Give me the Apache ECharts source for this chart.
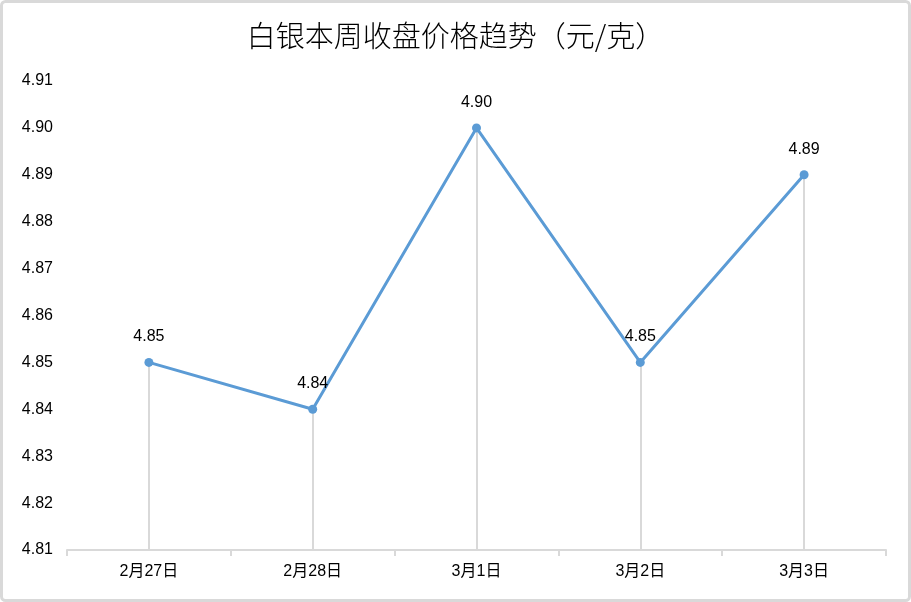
<!DOCTYPE html>
<html>
<head>
<meta charset="utf-8">
<script src="https://cdn.jsdelivr.net/npm/echarts@6/dist/echarts.min.js"></script>
<style>
  body { margin: 0; background: #fff; }
  #main { width: 911px; height: 602px; }
</style>
</head>
<body>
<div id="main"></div>
<script>
// 数据
const days = ['2月27日', '2月28日', '3月1日', '3月2日', '3月3日'];
const prices = [4.85, 4.84, 4.90, 4.85, 4.89];
const yMin = 4.81;
const yMax = 4.91;

const font = '"Liberation Sans", "Noto Sans CJK SC", sans-serif';

// 每个点向下到坐标轴的竖线
const dropLines = prices.map((v, i) => [
  { coord: [i, v] },
  { coord: [i, yMin] }
]);

const chart = echarts.init(document.getElementById('main'));
chart.setOption({
  animation: false,
  backgroundColor: '#fff',
  title: {
    text: '白银本周收盘价格趋势（元/克）',
    left: 'center',
    top: 16,
    textStyle: {
      fontFamily: '"Noto Sans CJK SC", sans-serif',
      fontSize: 29,
      fontWeight: 300,
      color: '#000'
    }
  },
  graphic: [{
    type: 'rect',
    shape: { x: 1.5, y: 1.5, width: 908, height: 599, r: 4 },
    style: { fill: 'none', stroke: '#d9d9d9', lineWidth: 3 },
    silent: true
  }],
  grid: { left: 67, right: 25, top: 81, bottom: 52 },
  xAxis: {
    type: 'category',
    data: days,
    boundaryGap: true,
    axisLine: { lineStyle: { color: '#d9d9d9', width: 2 } },
    axisTick: { show: true, length: 6, lineStyle: { color: '#d9d9d9', width: 2 } },
    axisLabel: { fontFamily: font, fontSize: 16, color: '#000', margin: 14 }
  },
  yAxis: {
    type: 'value',
    min: yMin,
    max: yMax,
    interval: 0.01,
    axisLine: { show: false },
    axisTick: { show: false },
    splitLine: { show: false },
    axisLabel: {
      fontFamily: font,
      fontSize: 16,
      color: '#000',
      margin: 14,
      formatter: v => v.toFixed(2)
    }
  },
  series: [{
    type: 'line',
    data: prices,
    symbol: 'circle',
    symbolSize: 9,
    z: 3,
    lineStyle: { color: '#5b9bd5', width: 3 },
    itemStyle: { color: '#5b9bd5' },
    label: {
      show: true,
      position: 'top',
      distance: 13,
      fontFamily: font,
      fontSize: 16,
      color: '#000',
      formatter: p => p.value.toFixed(2)
    },
    markLine: {
      silent: true,
      symbol: 'none',
      z: 1,
      label: { show: false },
      lineStyle: { color: '#d9d9d9', width: 2, type: 'solid' },
      data: dropLines
    }
  }]
});
</script>
</body>
</html>
